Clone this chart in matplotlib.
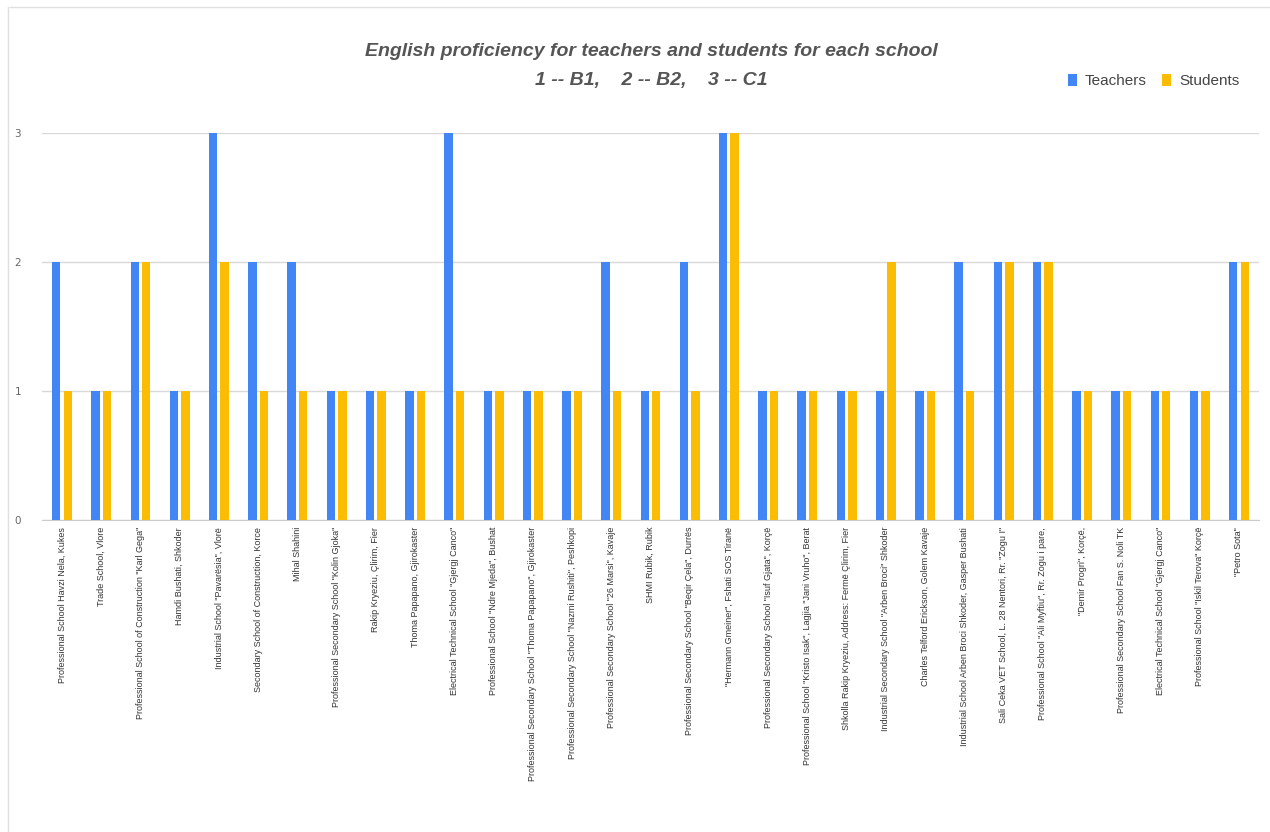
import matplotlib
matplotlib.use("Agg")
import matplotlib.pyplot as plt
import numpy as np
from matplotlib.lines import Line2D

schools = [
    "Professional School Havzi Nela, Kukes",
    "Trade School, Vlore",
    "Professional School of Construction \"Karl Gega\"",
    "Hamdi Bushati, Shkoder",
    "Industrial School \"Pavarësia\", Vlorë",
    "Secondary School of Construction, Korce",
    "Mihal Shahini",
    "Professional Secondary School \"Kolin Gjoka\"",
    "Rakip Kryeziu, Çlirim, Fier",
    "Thoma Papapano, Gjirokaster",
    "Electrical Technical School \"Gjergj Canco\"",
    "Professional School \"Ndre Mjeda\", Bushat",
    "Professional Secondary School \"Thoma Papapano\", Gjirokaster",
    "Professional Secondary School \"Nazmi Rushiti\", Peshkopi",
    "Professional Secondary School \"26 Marsi\", Kavaje",
    "SHMI Rubik, Rubik",
    "Professional Secondary School \"Beqir Çela\", Durrës",
    "\"Hermann Gmeiner\", Fshati SOS Tiranë",
    "Professional Secondary School \"Isuf Gjata\", Korçë",
    "Professional School \"Kristo Isak\", Lagjia \"Jani Vruho\", Berat",
    "Shkolla Rakip Kryeziu, Address: Fermë Çlirim, Fier",
    "Industrial Secondary School \"Arben Broci\" Shkoder",
    "Charles Telford Erickson, Golem Kavaje",
    "Industrial School Arben Broci Shkoder, Gasper Bushati",
    "Sali Ceka VET School, L. 28 Nentori, Rr. \"Zogu I\"",
    "Professional School \"Ali Myftiu\", Rr. Zogu i pare,",
    "\"Demir Progri\", Korçë,",
    "Professional Secondary School Fan S. Noli TK",
    "Electrical Technical School \"Gjergj Canco\"",
    "Professional School \"Iskil Terova\" Korçë",
    "\"Petro Sota\"",
]
teachers = [2, 1, 2, 1, 3, 2, 2, 1, 1, 1, 3, 1, 1, 1, 2, 1, 2, 3, 1, 1, 1, 1, 1, 2, 2, 2, 1, 1, 1, 1, 2]
students = [1, 1, 2, 1, 2, 1, 1, 1, 1, 1, 1, 1, 1, 1, 1, 1, 1, 3, 1, 1, 1, 2, 1, 1, 2, 2, 1, 1, 1, 1, 2]
yticks = [0, 1, 2, 3]

W, H = 1270, 832
fig = plt.figure(figsize=(W / 100, H / 100), dpi=100)
fig.patch.set_facecolor("white")
ax = fig.add_axes([42 / W, (H - 520) / H, (1259 - 42) / W, (520 - 133) / H])

x = np.arange(len(schools))
bw = 0.215
off = 0.146
ax.bar(x - off, teachers, width=bw, color="#4285F4", label="Teachers", zorder=3)
ax.bar(x + off, students, width=bw, color="#FBBC04", label="Students", zorder=3)

ax.set_xlim(-0.51, len(schools) - 1 + 0.51)
ax.set_ylim(0, 3)
ax.set_yticks(yticks)
ax.set_yticklabels([str(v) for v in yticks], fontsize=7.5, color="#666666")
ax.yaxis.grid(True, color="#d9d9d9", linewidth=1.0, zorder=0)
ax.set_axisbelow(True)
for s in ["top", "right", "left"]:
    ax.spines[s].set_visible(False)
ax.spines["bottom"].set_color("#cccccc")
ax.tick_params(axis="y", length=0, pad=15)
ax.tick_params(axis="x", length=0, pad=5)
ax.set_xticks(x)
ax.set_xticklabels(schools, rotation=90, fontsize=6.5, color="#333333",
                   family="Liberation Sans")

fig.text(651 / W, 1 - 52 / H, "English proficiency for teachers and students for each school",
         ha="center", va="center", fontsize=14, fontstyle="italic", fontweight="bold",
         color="#555555", family="Liberation Sans")
fig.text(651 / W, 1 - 80 / H, "1 -- B1,    2 -- B2,    3 -- C1",
         ha="center", va="center", fontsize=14, fontstyle="italic", fontweight="bold",
         color="#555555", family="Liberation Sans")

leg = fig.legend(loc="center right", bbox_to_anchor=(1253 / W, 1 - 81 / H), ncol=2,
                 frameon=False, handlelength=0.6, handleheight=0.8,
                 handletextpad=0.5, columnspacing=1.0, prop={"family": "Liberation Sans", "size": 11})
for t in leg.get_texts():
    t.set_color("#444444")

fig.add_artist(Line2D([10 / W, 1], [1 - 7 / H, 1 - 7 / H], transform=fig.transFigure,
                      color="#e0e0e0", linewidth=1))
fig.add_artist(Line2D([8 / W, 8 / W], [0, 1 - 7 / H], transform=fig.transFigure,
                      color="#e0e0e0", linewidth=1))

fig.savefig("out.png", dpi=100)
